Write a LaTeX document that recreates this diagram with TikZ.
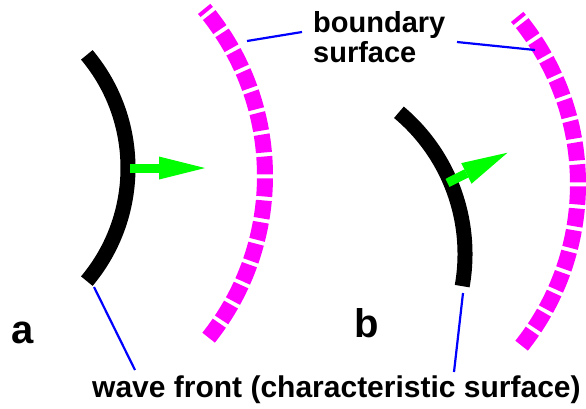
\documentclass[tikz,border=0pt]{standalone}
\usepackage{fontspec}
\setmainfont{Liberation Sans}
\usetikzlibrary{arrows.meta, calc}
\definecolor{cMagenta}{RGB}{255,0,255}
\definecolor{cGreen}{RGB}{0,255,0}
\definecolor{cBlue}{RGB}{0,0,255}
\tikzset{
	wavefront/.style={line width=15pt, black},
	bndsurf/.style  ={line width=16pt, cMagenta, dash pattern=on 18pt off 4pt, dash phase=14pt},
	ray/.style      ={line width=9pt, cGreen, -{Triangle[length=46pt, width=23pt, line width=0pt]}},
	leader/.style   ={line width=2.2pt, cBlue},
	% text styles
	lbl/.style      ={font=\fontsize{29}{30}\selectfont\bfseries, inner sep=0pt, anchor=base west, align=left},
	caselbl/.style  ={font=\fontsize{40}{40}\selectfont\bfseries, inner sep=0pt, anchor=base west},
}

\begin{document}
\begin{tikzpicture}[x=1pt, y=-1pt]
	\useasboundingbox (0,0) rectangle (586,408);
	% centres of the arcs
	\coordinate (cA) at (-48,168);
	\coordinate (cB) at (280,254);
	\coordinate (sA) at (5,176);
	\coordinate (sB) at (318,184);
	% boundary surfaces
	\draw[bndsurf] ($(sA)+(-40:260)$) arc[start angle=-40, end angle=39, radius=260];
	\draw[bndsurf] ($(sB)+(-40:260)$) arc[start angle=-40, end angle=39, radius=260];
	% wave fronts
	\draw[wavefront] ($(cA)+(-40:176)$) arc[start angle=-40, end angle=40, radius=176];
	\draw[wavefront] ($(cB)+(-50:185)$) arc[start angle=-50, end angle=10, radius=185];
	\draw[ray] ($(cA)+(0:178)$) -- ($(cA)+(0:253)$);
	\draw[ray] ($(cB)+(-23:182)$) -- ($(cB)+(-24:249)$);
	% labels
	\node[lbl] (bnd) at (313,62) {boundary\\surface};
	\node[lbl, font=\fontsize{30}{30}\selectfont\bfseries] (wf) at (92,397) {wave front (characteristic surface)};
	\node[caselbl] (la) at (11,343) {a};
	\node[caselbl] (lb) at (354,337) {b};
	% leader lines
	\coordinate (bsA) at (247,41);
	\coordinate (bsAt) at (302,32);
	\coordinate (bsB) at (535,50);
	\coordinate (bsBt) at (457,42);
	\coordinate (wfA) at (94,287);
	\coordinate (wfAt) at (135,370);
	\coordinate (wfB) at (463,293);
	\coordinate (wfBt) at (454,372);
	\draw[leader] (bsAt) -- (bsA);
	\draw[leader] (bsBt) -- (bsB);
	\draw[leader] (wfA) -- (wfAt);
	\draw[leader] (wfB) -- (wfBt);
\end{tikzpicture}
\end{document}
